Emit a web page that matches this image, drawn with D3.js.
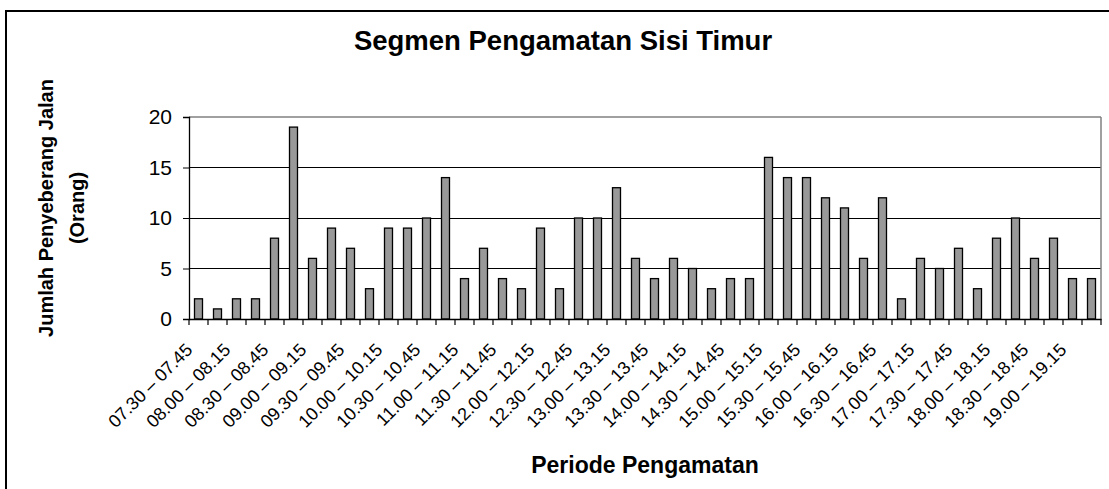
<!DOCTYPE html>
<html><head><meta charset="utf-8">
<script src="https://cdn.jsdelivr.net/npm/d3@7"></script>
<style>
html,body{margin:0;padding:0;background:#fff;overflow:hidden}
text{font-family:Arial,"Liberation Sans",sans-serif}
</style></head>
<body>
<svg id="c" width="1109" height="489"></svg>
<script>
const categories = [
"07.30 – 07.45","07.45 – 08.00","08.00 – 08.15","08.15 – 08.30","08.30 – 08.45","08.45 – 09.00",
"09.00 – 09.15","09.15 – 09.30","09.30 – 09.45","09.45 – 10.00","10.00 – 10.15","10.15 – 10.30",
"10.30 – 10.45","10.45 – 11.00","11.00 – 11.15","11.15 – 11.30","11.30 – 11.45","11.45 – 12.00",
"12.00 – 12.15","12.15 – 12.30","12.30 – 12.45","12.45 – 13.00","13.00 – 13.15","13.15 – 13.30",
"13.30 – 13.45","13.45 – 14.00","14.00 – 14.15","14.15 – 14.30","14.30 – 14.45","14.45 – 15.00",
"15.00 – 15.15","15.15 – 15.30","15.30 – 15.45","15.45 – 16.00","16.00 – 16.15","16.15 – 16.30",
"16.30 – 16.45","16.45 – 17.00","17.00 – 17.15","17.15 – 17.30","17.30 – 17.45","17.45 – 18.00",
"18.00 – 18.15","18.15 – 18.30","18.30 – 18.45","18.45 – 19.00","19.00 – 19.15","19.15 – 19.30"];
const values = [2,1,2,2,8,19,6,9,7,3,9,9,10,14,4,7,4,3,9,3,10,10,13,6,4,6,5,3,4,4,16,14,14,12,11,6,12,2,6,5,7,3,8,10,6,8,4,4];
const tickLabels = categories.filter((d,i)=>i%2===0);
const yTicks = [0,5,10,15,20];
const title = "Segmen Pengamatan Sisi Timur";
const xTitle = "Periode Pengamatan";
const yTitle = ["Jumlah Penyeberang Jalan","(Orang)"];

const svg = d3.select("#c");
const L=189, R=1101, T=117, B=319;

svg.append("rect").attr("x",6).attr("y",11).attr("width",1300).attr("height",700)
  .attr("fill","none").attr("stroke","#000").attr("stroke-width",2);

const x = d3.scaleBand().domain(categories).range([L,R]).paddingInner(0).paddingOuter(0);
const y = d3.scaleLinear().domain([0,20]).range([B,T]);

// gridlines
svg.append("g").selectAll("line").data(yTicks.filter(v=>v>0 && v<20)).join("line")
  .attr("x1",L).attr("x2",R).attr("y1",d=>y(d)).attr("y2",d=>y(d))
  .attr("stroke","#000").attr("stroke-width",1).attr("shape-rendering","crispEdges");
// top & right border grey
svg.append("line").attr("x1",L).attr("x2",R).attr("y1",y(20)).attr("y2",y(20))
  .attr("stroke","#808080").attr("stroke-width",1.5);
svg.append("line").attr("x1",R).attr("x2",R).attr("y1",T).attr("y2",B)
  .attr("stroke","#808080").attr("stroke-width",1.5);

// bars
const bw = 8;
svg.append("g").selectAll("rect").data(values).join("rect")
  .attr("x",(d,i)=>x(categories[i])+x.bandwidth()/2-bw/2)
  .attr("y",d=>y(d))
  .attr("width",bw)
  .attr("height",d=>y(0)-y(d))
  .attr("fill","#999999").attr("stroke","#000").attr("stroke-width",1.3);

// y axis
const ya = svg.append("g").attr("transform",`translate(${L},0)`)
  .call(d3.axisLeft(y).tickValues(yTicks).tickSize(6).tickPadding(11));
ya.select(".domain").attr("stroke","#000").attr("stroke-width",1.3);
ya.selectAll("text").attr("font-size",21).attr("fill","#000");
ya.selectAll("line").attr("stroke","#000");

// x axis
const xa = svg.append("g").attr("transform",`translate(0,${B})`)
  .call(d3.axisBottom(x).tickValues(tickLabels).tickSize(0).tickSizeOuter(0));
xa.select(".domain").attr("stroke","#000").attr("stroke-width",1.3);
xa.selectAll(".tick text")
  .attr("font-size",18).attr("fill","#000")
  .attr("text-anchor","end")
  .attr("dy",0).attr("y",0)
  .attr("transform","translate(-5,32) rotate(-45)");
// boundary ticks
svg.append("g").selectAll("line").data(categories.concat(["end"])).join("line")
  .attr("x1",(d,i)=>L+i*x.step()).attr("x2",(d,i)=>L+i*x.step())
  .attr("y1",B).attr("y2",B+6).attr("stroke","#000").attr("stroke-width",1.2);

// titles
svg.append("text").attr("x",563).attr("y",50).attr("text-anchor","middle")
  .attr("font-size",27.5).attr("font-weight","bold").text(title);
svg.append("text").attr("x",645).attr("y",473).attr("text-anchor","middle")
  .attr("font-size",23).attr("font-weight","bold").text(xTitle);
const yt = svg.append("text").attr("transform","translate(53,208) rotate(-90)")
  .attr("text-anchor","middle").attr("font-size",20).attr("font-weight","bold");
yt.append("tspan").attr("x",0).attr("y",0).text(yTitle[0]);
yt.append("tspan").attr("x",0).attr("y",31).text(yTitle[1]);
</script>
</body></html>
